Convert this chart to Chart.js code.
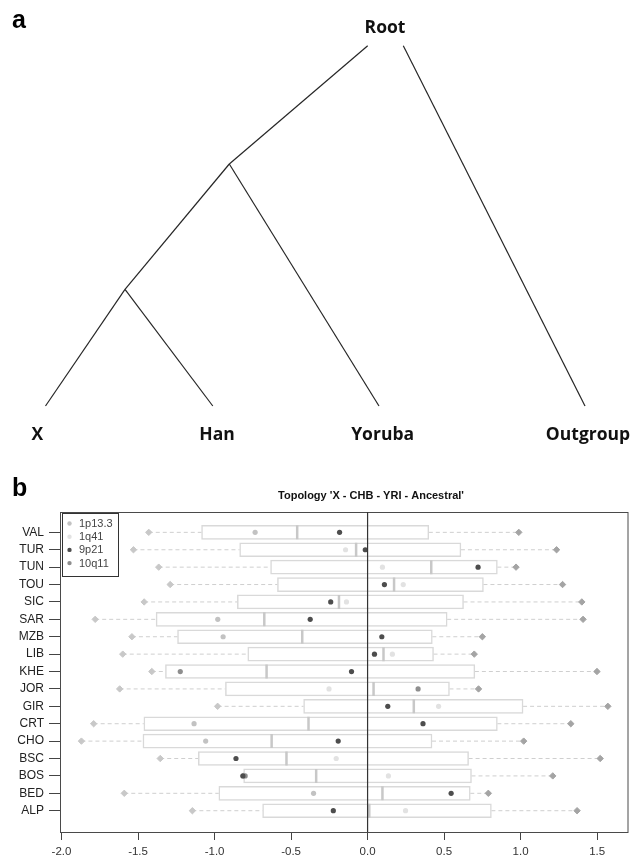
<!DOCTYPE html>
<html>
<head>
<meta charset="utf-8">
<script src="https://cdn.jsdelivr.net/npm/chart.js@4.4.0/dist/chart.umd.min.js"></script>
<style>
  body { margin: 0; background: #fff; }
  #wrap { position: relative; width: 638px; height: 858px; }
  #tree { position: absolute; left: 0; top: 0; }
  #box { position: absolute; left: 0; top: 470px; }
</style>
</head>
<body>
<div id="wrap">
  <canvas id="tree" width="638" height="470"></canvas>
  <canvas id="box" width="638" height="388"></canvas>
</div>
<script>
// ---- panel a: tree ----
const treeNodes = {
  rootL: [367.7, 45.7],
  rootR: [403.3, 45.7],
  n1: [229.3, 164],
  n2: [125, 289.3],
  X: [45.5, 406],
  Han: [212.8, 406],
  Yoruba: [379, 406],
  Outgroup: [585, 406]
};
const treeEdges = [['rootL', 'n1'], ['n1', 'n2'], ['n2', 'X'], ['n2', 'Han'], ['n1', 'Yoruba'], ['rootR', 'Outgroup']];
const treeLabels = [['Root', 385, 28], ['X', 37.3, 435], ['Han', 217, 435], ['Yoruba', 382.6, 435], ['Outgroup', 588, 435]];

// ---- panel b: boxplot ----
const cats = ['VAL', 'TUR', 'TUN', 'TOU', 'SIC', 'SAR', 'MZB', 'LIB', 'KHE', 'JOR', 'GIR', 'CRT', 'CHO', 'BSC', 'BOS', 'BED', 'ALP'];
const whiskLo = [-1.43, -1.53, -1.365, -1.29, -1.46, -1.78, -1.54, -1.60, -1.41, -1.62, -0.98, -1.79, -1.87, -1.355, -0.81, -1.59, -1.145];
const q1 = [-1.085, -0.836, -0.634, -0.589, -0.851, -1.382, -1.242, -0.783, -1.321, -0.929, -0.418, -1.462, -1.468, -1.106, -0.81, -0.972, -0.686];
const median = [-0.46, -0.075, 0.416, 0.173, -0.187, -0.675, -0.427, 0.104, -0.66, 0.039, 0.302, -0.386, -0.627, -0.53, -0.336, 0.097, 0.011];
const q3 = [0.40, 0.61, 0.848, 0.757, 0.627, 0.52, 0.423, 0.431, 0.701, 0.535, 1.016, 0.848, 0.421, 0.66, 0.679, 0.671, 0.809];
const whiskHi = [0.988, 1.235, 0.97, 1.274, 1.40, 1.408, 0.75, 0.697, 1.499, 0.725, 1.57, 1.328, 1.02, 1.52, 1.21, 0.789, 1.369];

const p1p13 = [-0.735, null, null, null, null, -0.979, -0.944, null, null, null, null, -1.134, -1.058, null, null, -0.353, null];
const p1q41 = [null, -0.144, 0.097, 0.233, -0.138, null, null, 0.162, null, -0.252, 0.464, null, null, -0.205, 0.136, null, 0.248];
const p9p21 = [-0.183, -0.015, 0.722, 0.11, -0.241, -0.375, 0.093, 0.045, -0.105, null, 0.132, 0.362, -0.192, -0.86, -0.815, 0.546, -0.224];
const p10q11 = [null, null, null, null, null, null, null, null, -1.224, 0.33, null, null, null, null, -0.80, null, null];

const xTicks = [-2.0, -1.5, -1.0, -0.5, 0.0, 0.5, 1.0, 1.5];
const title = "Topology 'X - CHB - YRI - Ancestral'";

const series = [
  { label: '1p13.3', vals: p1p13, color: '#c2c2c2' },
  { label: '1q41', vals: p1q41, color: '#e2e2e2' },
  { label: '9p21', vals: p9p21, color: '#4d4d4d' },
  { label: '10q11', vals: p10q11, color: '#8e8e8e' }
];

// tree
const treeText = {
  id: 'treeText',
  afterDraw(chart) {
    const { ctx, scales } = chart;
    ctx.save();
    ctx.fillStyle = '#111';
    ctx.font = 'bold 17.5px "Open Sans"';
    ctx.textAlign = 'center';
    ctx.textBaseline = 'middle';
    treeLabels.forEach(([t, x, y]) => {
      ctx.fillText(t, scales.x.getPixelForValue(x), scales.y.getPixelForValue(y));
    });
    ctx.font = 'bold 25px "Liberation Sans"';
    ctx.textAlign = 'left';
    ctx.textBaseline = 'alphabetic';
    ctx.fillStyle = '#000';
    ctx.fillText('a', 12, 28);
    ctx.restore();
  }
};

new Chart(document.getElementById('tree'), {
  type: 'scatter',
  data: {
    datasets: treeEdges.map(([a, b]) => ({
      data: [{ x: treeNodes[a][0], y: treeNodes[a][1] }, { x: treeNodes[b][0], y: treeNodes[b][1] }],
      showLine: true,
      borderColor: '#262626',
      borderWidth: 1.2,
      pointRadius: 0
    }))
  },
  options: {
    responsive: false,
    animation: false,
    events: [],
    layout: { padding: 0 },
    plugins: { legend: { display: false }, tooltip: { enabled: false } },
    scales: {
      x: { type: 'linear', display: false, min: 0, max: 638 },
      y: { type: 'linear', display: false, min: 0, max: 470, reverse: true }
    }
  },
  plugins: [treeText]
});

// boxplot
const n = cats.length;
const pos = cats.map((c, i) => n - i);

const datasets = [];
datasets.push({
  type: 'bar',
  indexAxis: 'y',
  data: cats.map((c, i) => ({ x: [q1[i], q3[i]], y: pos[i] })),
  backgroundColor: '#ffffff',
  borderColor: '#d9d9d9',
  borderWidth: 1.5,
  borderSkipped: false,
  barThickness: 14,
  order: 3
});
datasets.push({
  type: 'scatter',
  data: median.map((m, i) => ({ x: m, y: pos[i] })),
  pointStyle: 'line',
  pointRotation: 90,
  pointRadius: 7,
  pointBorderColor: '#c8c8c8',
  pointBorderWidth: 2.5,
  order: 2
});
cats.forEach((c, i) => {
  datasets.push({
    type: 'line',
    data: [{ x: whiskLo[i], y: pos[i] }, { x: q1[i], y: pos[i] }],
    borderColor: '#cfcfcf',
    borderWidth: 1,
    borderDash: [4, 3],
    pointRadius: [3.2, 0],
    pointStyle: 'rectRot',
    pointBackgroundColor: '#c8c8c8',
    pointBorderColor: '#c8c8c8',
    order: 4
  });
  datasets.push({
    type: 'line',
    data: [{ x: q3[i], y: pos[i] }, { x: whiskHi[i], y: pos[i] }],
    borderColor: '#cfcfcf',
    borderWidth: 1,
    borderDash: [4, 3],
    pointRadius: [0, 3.2],
    pointStyle: 'rectRot',
    pointBackgroundColor: '#a4a4a4',
    pointBorderColor: '#a4a4a4',
    order: 4
  });
});
series.forEach(s => {
  datasets.push({
    type: 'scatter',
    label: s.label,
    data: s.vals.map((v, i) => v == null ? null : { x: v, y: pos[i] }).filter(Boolean),
    pointRadius: 2.6,
    pointBackgroundColor: s.color,
    pointBorderColor: s.color,
    pointBorderWidth: 0,
    order: 0
  });
});

const boxDecor = {
  id: 'boxDecor',
  afterDraw(chart) {
    const { ctx, chartArea: a, scales } = chart;
    ctx.save();
    // frame
    ctx.strokeStyle = '#4a4a4a';
    ctx.lineWidth = 1;
    ctx.strokeRect(a.left + 0.5, a.top + 0.5, a.right - a.left - 1, a.bottom - a.top);
    // zero line
    const x0 = scales.x.getPixelForValue(0);
    ctx.strokeStyle = '#333';
    ctx.lineWidth = 1.2;
    ctx.beginPath();
    ctx.moveTo(x0, a.top);
    ctx.lineTo(x0, a.bottom);
    ctx.stroke();
    // title
    ctx.fillStyle = '#111';
    ctx.font = 'bold 11px "Liberation Sans"';
    ctx.textAlign = 'center';
    ctx.textBaseline = 'middle';
    ctx.fillText(title, 371, a.top - 16);
    // panel letter
    ctx.font = 'bold 25px "Liberation Sans"';
    ctx.textAlign = 'left';
    ctx.textBaseline = 'alphabetic';
    ctx.fillStyle = '#000';
    ctx.fillText('b', 12, 26);
    // legend
    const lx = a.left + 2, ly = a.top + 1, lw = 56, lh = 63;
    ctx.fillStyle = '#fff';
    ctx.fillRect(lx, ly, lw, lh);
    ctx.strokeStyle = '#333';
    ctx.lineWidth = 1;
    ctx.strokeRect(lx + 0.5, ly + 0.5, lw, lh);
    ctx.font = '11px "Liberation Sans"';
    ctx.textBaseline = 'middle';
    series.forEach((s, k) => {
      const yy = ly + 10.5 + k * 13.2;
      ctx.fillStyle = s.color;
      ctx.beginPath();
      ctx.arc(lx + 7.5, yy, 2.2, 0, Math.PI * 2);
      ctx.fill();
      ctx.fillStyle = '#444';
      ctx.fillText(s.label, lx + 17, yy + 0.5);
    });
    ctx.restore();
  }
};

new Chart(document.getElementById('box'), {
  type: 'scatter',
  data: { datasets },
  options: {
    responsive: false,
    animation: false,
    events: [],
    layout: { padding: { left: 0, right: 4, top: 42, bottom: 0 } },
    plugins: { legend: { display: false }, tooltip: { enabled: false } },
    scales: {
      x: {
        type: 'linear',
        min: -2.01,
        max: 1.705,
        offset: false,
        afterBuildTicks: s => { s.ticks = xTicks.map(v => ({ value: v })); },
        afterFit: s => { s.height = 26; },
        ticks: {
          callback: v => v.toFixed(1),
          font: { size: 11.5, family: '"Liberation Sans"' },
          color: '#333',
          padding: 5,
          maxRotation: 0,
          autoSkip: false
        },
        grid: { offset: false, drawOnChartArea: false, drawTicks: true, tickLength: 8, color: '#444' },
        border: { display: false }
      },
      y: {
        type: 'linear',
        min: -0.224,
        max: 18.17,
        offset: false,
        afterBuildTicks: s => { s.ticks = pos.map(p => ({ value: p })); },
        afterFit: s => { s.width = 60; },
        ticks: {
          callback: v => cats[n - v],
          font: { size: 12, family: '"Liberation Sans"' },
          color: '#222',
          padding: 5,
          autoSkip: false
        },
        grid: { offset: false, drawOnChartArea: false, drawTicks: true, tickLength: 11, color: '#444' },
        border: { display: false }
      }
    }
  },
  plugins: [boxDecor]
});
</script>
</body>
</html>
